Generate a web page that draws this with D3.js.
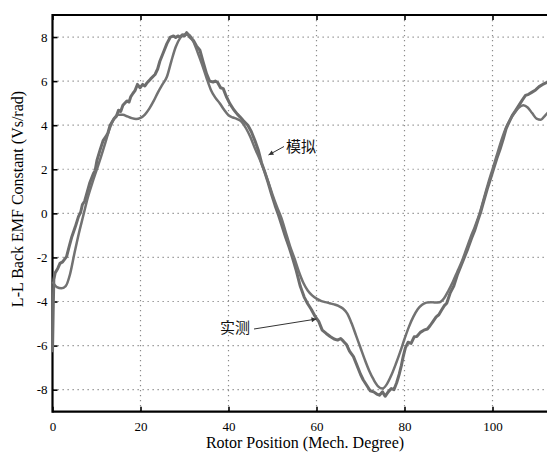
<!DOCTYPE html>
<html>
<head>
<meta charset="utf-8">
<script src="https://cdn.jsdelivr.net/npm/d3@7/dist/d3.min.js"></script>
<style>
  body { margin: 0; background: #fff; }
  svg { display: block; }
  .tick text { font-family: "Liberation Serif", "DejaVu Serif", serif; font-size: 13px; fill: #000; }
</style>
</head>
<body>
<div id="chart"></div>
<script>
// chart data
const xTicks = [0, 20, 40, 60, 80, 100];
const yTicks = [-8, -6, -4, -2, 0, 2, 4, 6, 8];

// simulated (模拟) curve
const simX = [0, 1, 2, 3, 4, 5, 6, 7, 8, 9, 10, 11, 12, 13, 14, 15, 16, 17, 18, 19,
  20, 21, 22, 23, 24, 25, 26, 27, 28, 29, 30, 31, 32, 33, 34, 35, 36, 37, 38, 39,
  40, 41, 42, 43, 44, 45, 46, 47, 48, 49, 50, 51, 52, 53, 54, 55, 56, 57, 58, 59,
  60, 61, 62, 63, 64, 65, 66, 67, 68, 69, 70, 71, 72, 73, 74, 75, 76, 77, 78, 79,
  80, 81, 82, 83, 84, 85, 86, 87, 88, 89, 90, 91, 92, 93, 94, 95, 96, 97, 98, 99,
  100, 101, 102, 103, 104, 105, 106, 107, 108, 109, 110, 111, 112, 113];
const simY = [-3.1, -3.35, -3.4, -3.3, -2.75, -1.8, -0.9, -0.1, 0.7, 1.35, 1.95, 2.55, 3.2, 3.85, 4.3, 4.47, 4.47, 4.4, 4.32, 4.28,
  4.33, 4.48, 4.75, 5.1, 5.5, 5.85, 6.2, 6.9, 7.55, 7.95, 8.12, 8.1, 7.8, 7.3, 6.75, 6.15, 5.6, 5.25, 5.0, 4.7,
  4.45, 4.35, 4.28, 4.15, 3.85, 3.45, 2.95, 2.5, 2.0, 1.45, 0.85, 0.3, -0.2, -0.85, -1.5, -2.05, -2.65, -3.15, -3.5, -3.72,
  -3.87, -3.97, -4.03, -4.08, -4.13, -4.2, -4.32, -4.55, -5.0, -5.55, -6.1, -6.65, -7.15, -7.55, -7.85, -7.95, -7.75, -7.35, -6.85, -6.3,
  -5.7, -5.15, -4.7, -4.35, -4.15, -4.05, -4.03, -4.05, -4.03, -3.85, -3.5, -3.1, -2.65, -2.2, -1.65, -1.1, -0.6, -0.05, 0.65, 1.35,
  2.0, 2.65, 3.3, 3.85, 4.25, 4.55, 4.8, 4.9, 4.8, 4.55, 4.3, 4.25, 4.45, 4.65];

// measured (实测) curve
const measX = [0, 0.15, 0.3, 0.6, 1.2, 1.7, 2.3, 3.2, 3.8, 4.4, 5.2, 5.9, 6.4, 6.8, 7.3, 7.8, 8.5, 9.3, 9.7, 10.1,
  10.8, 11.5, 12.2, 12.6, 13.1, 14.0, 14.5, 15.0, 15.5, 16.0, 16.9, 17.4, 17.8, 18.3, 18.75, 19.3, 19.9, 20.5, 21.0, 21.4, 22.3, 23.3, 23.9,
  24.4, 25.2, 26.0, 26.8, 27.5, 28.0, 28.5, 29.0, 29.5, 30.0, 30.5, 31.2, 32.0, 32.7, 33.5, 34.2, 35.0, 35.7, 36.5, 37.0, 37.5, 38.2,
  38.8, 39.5, 40.3, 41.2, 42.0, 42.6, 43.4, 44.4, 45.2, 46.0, 46.8, 47.5, 48.2, 49.0, 49.8, 50.6, 51.4, 52.2, 53.0, 53.8,
  54.6, 55.4, 56.3, 57.2, 58.0, 58.8, 59.7, 60.5, 61.3, 62.2, 63.1, 64.0, 64.8, 65.5, 66.1, 66.8, 67.5, 68.4, 69.2, 70.0,
  70.6, 71.4, 72.2, 73.0, 73.7, 74.3, 75.0, 75.6, 76.3, 77.0, 77.6, 78.2, 78.8, 79.3, 79.7, 80.2, 80.8, 81.5, 82.2, 82.8,
  83.6, 84.4, 85.2, 85.8, 86.5, 87.2, 87.8, 88.4, 89.0, 89.6, 90.4, 91.2, 92.0, 92.8, 93.6, 94.4, 95.2, 96.0, 96.7, 97.3,
  98.0, 98.8, 99.6, 100.3, 101.0, 101.7, 102.4, 103.1, 103.8, 104.5, 105.2, 106.0, 106.8, 107.5, 108.2, 109.0, 109.8, 110.6, 111.4, 112.4, 113];
const measY = [-6.3, -4.5, -3.0, -2.7, -2.5, -2.27, -2.2, -1.96, -1.5, -1.06, -0.6, -0.15, 0.05, 0.4, 0.55, 0.9, 1.4, 1.81, 1.95, 2.4,
  2.87, 3.3, 3.5, 3.65, 4.0, 4.3, 4.4, 4.68, 4.62, 4.9, 5.1, 5.05, 5.3, 5.45, 5.57, 5.85, 5.7, 5.85, 5.78, 5.9, 6.1, 6.3, 6.55,
  6.9, 7.3, 7.7, 8.0, 8.05, 7.98, 8.05, 8.0, 8.1, 8.05, 8.2, 8.0, 7.85, 7.6, 7.4, 6.9, 6.34, 6.0, 5.96, 6.0, 5.95, 5.7,
  5.66, 5.3, 4.98, 4.7, 4.5, 4.38, 4.2, 4.0, 3.7, 3.3, 2.85, 2.3, 1.9, 1.4, 0.85, 0.35, -0.1, -0.6, -1.1, -1.55,
  -2.05, -2.6, -3.3, -3.8, -4.1, -4.35, -4.68, -4.9, -5.3, -5.45, -5.59, -5.7, -5.75, -5.68, -5.8, -5.95, -6.25, -6.5, -6.9, -7.3,
  -7.55, -7.8, -8.05, -8.1, -8.2, -8.25, -8.1, -8.3, -8.1, -7.95, -8.0, -7.7, -7.3, -6.9, -6.5, -6.1, -5.85, -5.9, -5.6, -5.59,
  -5.4, -5.3, -5.25, -5.1, -4.9, -4.7, -4.6, -4.4, -4.2, -4.08, -3.6, -3.3, -2.8, -2.4, -2.0, -1.6, -1.15, -0.75, -0.3, 0.05,
  0.55, 1.1, 1.6, 2.05, 2.5, 2.9, 3.35, 3.85, 4.15, 4.45, 4.65, 4.9, 5.15, 5.35, 5.4, 5.5, 5.6, 5.75, 5.85, 5.95, 6.0];

const width = 547;
const height = 454;
const plotLeft = 52.5, plotTop = 15, plotBottom = 411.7;
const pxPerUnit = 4.4;

const x = d3.scaleLinear().domain([0, 120]).range([plotLeft, plotLeft + 120 * pxPerUnit]);
const y = d3.scaleLinear().domain([-9, 9]).range([plotBottom, plotTop]);

const svg = d3.select('#chart')
  .append('svg')
  .attr('width', width)
  .attr('height', height);

// dotted grid
svg.append('g')
  .selectAll('line')
  .data(yTicks)
  .enter()
  .append('line')
  .attr('x1', plotLeft).attr('x2', width)
  .attr('y1', d => y(d)).attr('y2', d => y(d))
  .attr('stroke', '#8a8a8a')
  .attr('stroke-width', 1.2)
  .attr('stroke-dasharray', '1.3,3.7');

svg.append('g')
  .selectAll('line')
  .data(xTicks.filter(d => d > 0))
  .enter()
  .append('line')
  .attr('x1', d => x(d)).attr('x2', d => x(d))
  .attr('y1', plotTop).attr('y2', plotBottom)
  .attr('stroke', '#8a8a8a')
  .attr('stroke-width', 1.2)
  .attr('stroke-dasharray', '1.3,3.7');

// axes with inward ticks
const xAxis = svg.append('g')
  .attr('transform', `translate(0, ${plotBottom})`)
  .call(d3.axisBottom(x).tickValues(xTicks).tickSize(-5).tickPadding(10).tickFormat(d => String(d)));

const xTop = svg.append('g')
  .attr('transform', `translate(0, ${plotTop})`)
  .call(d3.axisTop(x).tickValues(xTicks).tickSize(-5).tickFormat(''));

const yAxis = svg.append('g')
  .attr('transform', `translate(${plotLeft}, 0)`)
  .call(d3.axisLeft(y).tickValues(yTicks).tickSize(-5).tickPadding(5).tickFormat(d => String(d)));

[xAxis, xTop, yAxis].forEach(g => {
  g.select('.domain').remove();
  g.selectAll('.tick line').attr('stroke', '#000').attr('stroke-width', 1.6);
});

// frame
svg.append('line').attr('x1', plotLeft).attr('x2', plotLeft).attr('y1', plotTop - 1).attr('y2', plotBottom + 1)
  .attr('stroke', '#000').attr('stroke-width', 2.2);
svg.append('line').attr('x1', plotLeft).attr('x2', width).attr('y1', plotTop).attr('y2', plotTop)
  .attr('stroke', '#000').attr('stroke-width', 2.2);
svg.append('line').attr('x1', plotLeft).attr('x2', width).attr('y1', plotBottom).attr('y2', plotBottom)
  .attr('stroke', '#000').attr('stroke-width', 2.2);

// curves
const line = d3.line()
  .x(d => x(d[0]))
  .y(d => y(d[1]));

svg.append('path')
  .datum(measX.map((v, i) => [v, measY[i]]))
  .attr('fill', 'none')
  .attr('stroke', '#6d6d6d')
  .attr('stroke-width', 3)
  .attr('stroke-linejoin', 'round')
  .attr('d', line);

svg.append('path')
  .datum(simX.map((v, i) => [v, simY[i]]))
  .attr('fill', 'none')
  .attr('stroke', '#727272')
  .attr('stroke-width', 2.5)
  .attr('stroke-linejoin', 'round')
  .attr('d', line.curve(d3.curveMonotoneX));

// annotations
svg.append('defs').append('marker')
  .attr('id', 'arrow')
  .attr('viewBox', '0 0 10 10')
  .attr('refX', 10).attr('refY', 5)
  .attr('markerWidth', 6).attr('markerHeight', 5)
  .attr('markerUnits', 'userSpaceOnUse')
  .attr('orient', 'auto')
  .append('path')
  .attr('d', 'M0,0L10,5L0,10z')
  .attr('fill', '#333');

svg.append('line')
  .attr('x1', 284).attr('y1', 146.5).attr('x2', 268.5).attr('y2', 155)
  .attr('stroke', '#333').attr('stroke-width', 1)
  .attr('marker-end', 'url(#arrow)');
svg.append('text')
  .attr('x', 286).attr('y', 152)
  .style('font-family', '"Noto Sans CJK SC", sans-serif')
  .style('font-size', '15px')
  .attr('fill', '#111')
  .text('模拟');

svg.append('line')
  .attr('x1', 254).attr('y1', 329).attr('x2', 316.5).attr('y2', 319)
  .attr('stroke', '#333').attr('stroke-width', 1)
  .attr('marker-end', 'url(#arrow)');
svg.append('text')
  .attr('x', 220).attr('y', 333)
  .style('font-family', '"Noto Sans CJK SC", sans-serif')
  .style('font-size', '15px')
  .attr('fill', '#111')
  .text('实测');

// axis titles
svg.append('text')
  .attr('x', 305).attr('y', 448)
  .attr('text-anchor', 'middle')
  .style('font-family', '"Liberation Serif", serif')
  .style('font-size', '16px')
  .attr('fill', '#000')
  .text('Rotor Position (Mech. Degree)');

svg.append('text')
  .attr('transform', 'translate(23, 199) rotate(-90)')
  .attr('text-anchor', 'middle')
  .style('font-family', '"Liberation Serif", serif')
  .style('font-size', '16px')
  .attr('fill', '#000')
  .text('L-L Back EMF Constant (Vs/rad)');
</script>
</body>
</html>
